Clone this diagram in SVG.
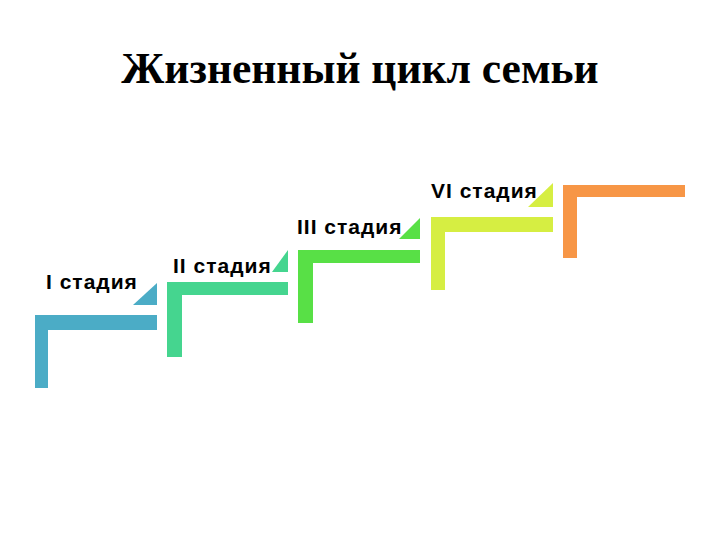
<svg xmlns="http://www.w3.org/2000/svg" width="720" height="540" viewBox="0 0 720 540">
<style>
.title{font-family:"Liberation Serif","Times New Roman",serif;font-weight:bold;font-size:43.5px;fill:#000}
.lbl{font-family:"Liberation Sans",Arial,sans-serif;font-weight:bold;font-size:21px;letter-spacing:1px;fill:#000}
</style>
<rect width="720" height="540" fill="#fff"/>
<text class="title" x="360" y="83" text-anchor="middle">Жизненный цикл семьи</text>
<g id="stage1" fill="#4BACC6">
<path d="M35 315H157V330H48V388H35Z"/>
<path d="M133 305L157 283V305Z"/>
<text class="lbl" x="46" y="289">I стадия</text>
</g>
<g id="stage2" fill="#45D58F">
<path d="M167 282H288V295H182V357H167Z"/>
<path d="M272 272L288 250V272Z"/>
<text class="lbl" x="173" y="273">II стадия</text>
</g>
<g id="stage3" fill="#58E046">
<path d="M298 250H420V263H313V323H298Z"/>
<path d="M399 239L420 218V239Z"/>
<text class="lbl" x="297" y="234">III стадия</text>
</g>
<g id="stage4" fill="#D6EE42">
<path d="M431 217H553V232H445V290H431Z"/>
<path d="M528 207L553 183V207Z"/>
<text class="lbl" x="431" y="198">VI стадия</text>
</g>
<g id="stage5" fill="#F79646">
<path d="M563 185H685V197H577V258H563Z"/>
</g>
<g id="connectors"/>
</svg>
